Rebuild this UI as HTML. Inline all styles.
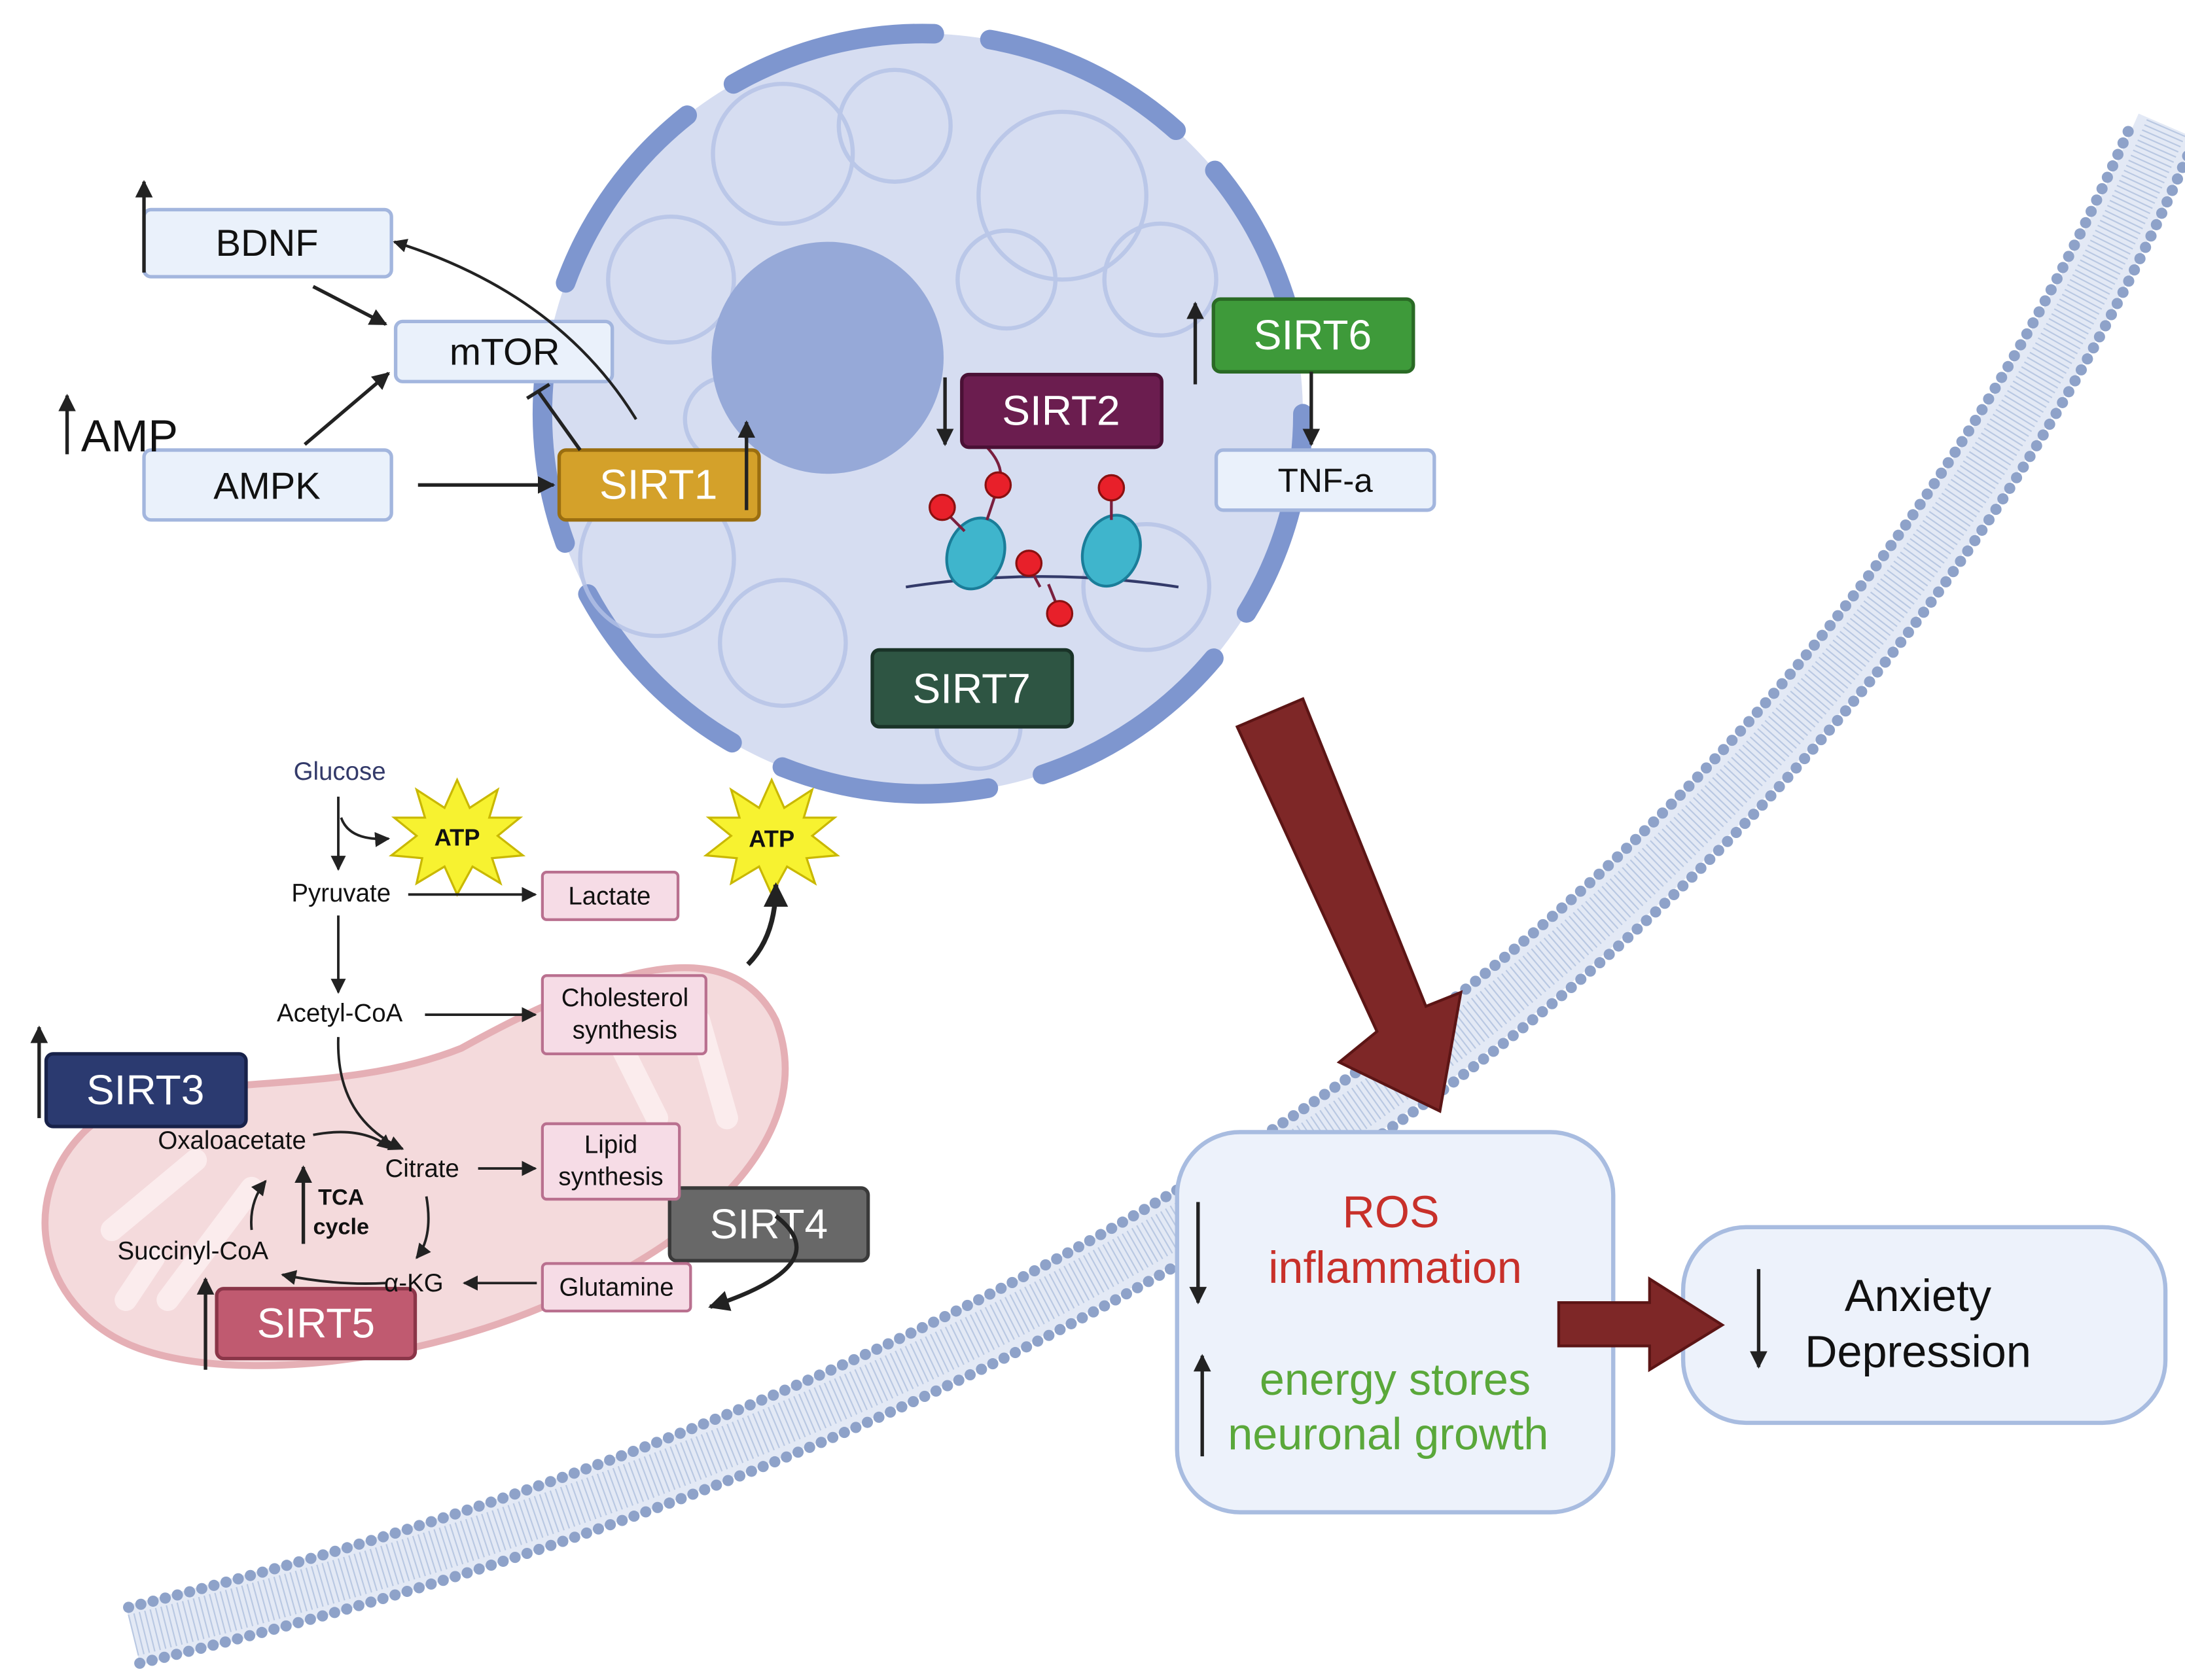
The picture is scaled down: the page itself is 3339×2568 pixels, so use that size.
<!DOCTYPE html>
<html><head><meta charset="utf-8"><style>html,body{margin:0;padding:0;background:#fff}svg{display:block}text{font-family:"Liberation Sans",sans-serif}</style></head>
<body>
<svg width="3339" height="2568" viewBox="0 0 1563 1202" preserveAspectRatio="none" xmlns="http://www.w3.org/2000/svg">
<defs>
<marker id="ah" viewBox="0 0 10 10" refX="9" refY="5" markerWidth="5" markerHeight="5" orient="auto"><path d="M0,0L10,5L0,10z" fill="#222"/></marker>
<marker id="ahs" viewBox="0 0 10 10" refX="9" refY="5" markerWidth="6" markerHeight="6" orient="auto"><path d="M0,0L10,5L0,10z" fill="#222"/></marker>
</defs>
<!-- membrane -->
<path d="M95,1170 Q1200,900 1550,90" fill="none" stroke="#e3e9f5" stroke-width="44"/>
<path d="M95,1170 Q1200,900 1550,90" fill="none" stroke="#b9c8e2" stroke-width="30" stroke-dasharray="1 3"/>
<path d="M92,1150 Q1180,880 1525,88" fill="none" stroke="#8ea2c9" stroke-width="8" stroke-linecap="round" stroke-dasharray="0 9"/>
<path d="M100,1190 Q1222,922 1572,95" fill="none" stroke="#8ea2c9" stroke-width="8" stroke-linecap="round" stroke-dasharray="0 9"/>
<!-- nucleus -->
<circle cx="660" cy="296" r="272" fill="#d6ddf1"/>
<circle cx="660" cy="296" r="272" fill="none" stroke="#7e96cf" stroke-width="14" stroke-dasharray="150 40" stroke-linecap="round"/>
<g fill="none" stroke="#b4c2e6" stroke-width="3" opacity="0.8">
<circle cx="560" cy="110" r="50"/><circle cx="640" cy="90" r="40"/><circle cx="760" cy="140" r="60"/><circle cx="480" cy="200" r="45"/><circle cx="830" cy="200" r="40"/><circle cx="470" cy="400" r="55"/><circle cx="560" cy="460" r="45"/><circle cx="820" cy="420" r="45"/><circle cx="720" cy="200" r="35"/><circle cx="520" cy="300" r="30"/><circle cx="700" cy="520" r="30"/>
</g>
<circle cx="592" cy="256" r="83" fill="#96a9d8"/>
<!-- DNA -->
<path d="M648,420 Q745,405 843,420" fill="none" stroke="#333a6a" stroke-width="2"/>
<ellipse cx="698" cy="396" rx="20" ry="26" fill="#3fb5cc" stroke="#1a7d99" stroke-width="2" transform="rotate(20 698 396)"/>
<ellipse cx="795" cy="394" rx="20" ry="26" fill="#3fb5cc" stroke="#1a7d99" stroke-width="2" transform="rotate(20 795 394)"/>
<g stroke="#7a1f3e" stroke-width="2"><line x1="674" y1="364" x2="690" y2="380"/><line x1="714" y1="348" x2="706" y2="372"/><line x1="795" y1="350" x2="795" y2="372"/><line x1="736" y1="405" x2="744" y2="420"/><line x1="758" y1="438" x2="750" y2="418"/><path d="M706,320 Q720,335 714,348" fill="none"/></g>
<g fill="#e8202a" stroke="#8a1010" stroke-width="1.5"><circle cx="674" cy="363" r="9"/><circle cx="714" cy="347" r="9"/><circle cx="795" cy="349" r="9"/><circle cx="736" cy="403" r="9"/><circle cx="758" cy="439" r="9"/></g>
<!-- mitochondrion -->
<path d="M60,810 C110,760 230,790 330,750 C420,700 520,660 555,730 C590,820 480,900 400,930 C300,975 170,990 100,965 C30,940 10,860 60,810 Z" fill="#f3d6d9" stroke="#e3a7ae" stroke-width="5" opacity="0.9"/>
<g stroke="#fbeced" stroke-width="16" stroke-linecap="round" fill="none"><path d="M80,880 L140,830"/><path d="M120,930 L180,850"/><path d="M440,740 L470,800"/><path d="M500,730 L520,800"/><path d="M90,930 L110,900"/></g>
<!-- result boxes -->
<rect x="842" y="810" width="312" height="272" rx="45" fill="#edf2fb" stroke="#a8bce0" stroke-width="3"/>
<rect x="1204" y="878" width="345" height="140" rx="45" fill="#edf2fb" stroke="#a8bce0" stroke-width="3"/>
<!-- big arrows -->
<polygon points="885,520 932,500 1020,720 1045,710 1030,795 958,760 985,738" fill="#7e2727" stroke="#5c1515" stroke-width="2"/>
<polygon points="1115,932 1180,932 1180,915 1232,948 1180,980 1180,963 1115,963" fill="#7e2727" stroke="#5c1515" stroke-width="2"/>
<text x="995" y="878" font-size="32" fill="#c8302a" text-anchor="middle">ROS</text>
<text x="998" y="918" font-size="32" fill="#c8302a" text-anchor="middle">inflammation</text>
<text x="998" y="998" font-size="32" fill="#5aa83a" text-anchor="middle">energy stores</text>
<text x="993" y="1037" font-size="32" fill="#5aa83a" text-anchor="middle">neuronal growth</text>
<text x="1372" y="938" font-size="32" fill="#111" text-anchor="middle">Anxiety</text>
<text x="1372" y="978" font-size="32" fill="#111" text-anchor="middle">Depression</text>
<g stroke="#222" stroke-width="2.5" fill="none">
<line x1="857" y1="860" x2="857" y2="932" marker-end="url(#ah)"/>
<line x1="860" y1="1042" x2="860" y2="970" marker-end="url(#ah)"/>
<line x1="1258" y1="908" x2="1258" y2="978" marker-end="url(#ah)"/>
</g>
<!-- light boxes -->
<g fill="#eaf1fb" stroke="#a3b6de" stroke-width="2.5">
<rect x="103" y="150" width="177" height="48" rx="5"/><rect x="283" y="230" width="155" height="43" rx="5"/><rect x="103" y="322" width="177" height="50" rx="5"/><rect x="870" y="322" width="156" height="43" rx="5"/>
</g>
<g font-size="27" fill="#111" text-anchor="middle">
<text x="191" y="183">BDNF</text><text x="361" y="261">mTOR</text><text x="191" y="357">AMPK</text><text x="948" y="352" font-size="24">TNF-a</text>
<text x="58" y="323" text-anchor="start" font-size="32">AMP</text></g>
<!-- SIRT boxes -->
<g stroke-width="2.5">
<rect x="400" y="322" width="143" height="50" rx="5" fill="#d4a12a" stroke="#9a6e10"/>
<rect x="688" y="268" width="143" height="52" rx="5" fill="#6b1d4f" stroke="#4a1035"/>
<rect x="868" y="214" width="143" height="52" rx="5" fill="#3e9a3a" stroke="#2a6a25"/>
<rect x="624" y="465" width="143" height="55" rx="5" fill="#2e5543" stroke="#1a3328"/>
<rect x="33" y="754" width="143" height="52" rx="5" fill="#2b3a70" stroke="#18224a"/>
<rect x="479" y="850" width="142" height="52" rx="5" fill="#686868" stroke="#3a3a3a"/>
<rect x="155" y="922" width="142" height="50" rx="5" fill="#c05a70" stroke="#8a3548"/>
</g>
<g font-size="30" fill="#fff" text-anchor="middle">
<text x="471" y="357">SIRT1</text><text x="759" y="304">SIRT2</text><text x="939" y="250">SIRT6</text><text x="695" y="503">SIRT7</text><text x="104" y="790">SIRT3</text><text x="550" y="886">SIRT4</text><text x="226" y="957">SIRT5</text></g>
<!-- top arrows -->
<g stroke="#222" stroke-width="2.5" fill="none">
<line x1="103" y1="195" x2="103" y2="130" marker-end="url(#ah)"/>
<line x1="48" y1="325" x2="48" y2="283" marker-end="url(#ah)"/>
<line x1="224" y1="205" x2="276" y2="232" marker-end="url(#ah)"/>
<line x1="218" y1="318" x2="278" y2="267" marker-end="url(#ah)"/>
<line x1="299" y1="347" x2="396" y2="347" marker-end="url(#ah)"/>
<path d="M455,300 Q400,210 282,173" stroke-width="2" marker-end="url(#ah)"/>
<line x1="415" y1="322" x2="385" y2="280"/><line x1="377" y1="285" x2="393" y2="275"/>
<line x1="534" y1="365" x2="534" y2="302" marker-end="url(#ah)"/>
<line x1="676" y1="270" x2="676" y2="318" marker-end="url(#ah)"/>
<line x1="855" y1="275" x2="855" y2="217" marker-end="url(#ah)"/>
<line x1="938" y1="266" x2="938" y2="318" marker-end="url(#ah)"/>
<line x1="28" y1="800" x2="28" y2="735" marker-end="url(#ah)"/>
<line x1="147" y1="980" x2="147" y2="915" marker-end="url(#ah)"/>
</g>
<!-- ATP -->
<polygon points="327,558 336,578 356,565 350,585 372,585 356,598 374,612 352,614 358,632 338,620 327,640 318,620 298,632 302,614 280,612 298,598 282,585 304,585 298,565 318,578" fill="#f7f230" stroke="#c9b800" stroke-width="1.5"/>
<polygon points="552,558 561,578 581,565 575,585 597,585 581,598 599,612 577,614 583,632 563,620 552,640 543,620 523,632 527,614 505,612 523,598 507,585 529,585 523,565 543,578" fill="#f7f230" stroke="#c9b800" stroke-width="1.5"/>
<g font-size="17" font-weight="bold" text-anchor="middle" fill="#111"><text x="327" y="605">ATP</text><text x="552" y="606">ATP</text></g>
<!-- pink boxes -->
<g fill="#f6dce6" stroke="#b9708f" stroke-width="2">
<rect x="388" y="624" width="97" height="34" rx="3"/><rect x="388" y="698" width="117" height="56" rx="3"/><rect x="388" y="804" width="98" height="54" rx="3"/><rect x="388" y="904" width="106" height="34" rx="3"/></g>
<g font-size="18" fill="#111" text-anchor="middle">
<text x="436" y="647">Lactate</text><text x="447" y="720">Cholesterol</text><text x="447" y="743">synthesis</text><text x="437" y="825">Lipid</text><text x="437" y="848">synthesis</text><text x="441" y="927">Glutamine</text>
<text x="243" y="558" fill="#333a6a">Glucose</text><text x="244" y="645">Pyruvate</text><text x="243" y="731">Acetyl-CoA</text><text x="166" y="822">Oxaloacetate</text><text x="302" y="842">Citrate</text><text x="138" y="901">Succinyl-CoA</text><text x="296" y="924">α-KG</text>
<text x="244" y="862" font-weight="bold" font-size="16">TCA</text><text x="244" y="883" font-weight="bold" font-size="16">cycle</text></g>
<g stroke="#222" stroke-width="1.8" fill="none">
<line x1="242" y1="570" x2="242" y2="622" marker-end="url(#ahs)"/>
<path d="M244,585 Q250,602 278,600" marker-end="url(#ahs)"/>
<line x1="292" y1="640" x2="383" y2="640" marker-end="url(#ahs)"/>
<line x1="242" y1="655" x2="242" y2="710" marker-end="url(#ahs)"/>
<line x1="304" y1="726" x2="383" y2="726" marker-end="url(#ahs)"/>
<path d="M242,742 Q240,800 288,822" marker-end="url(#ahs)"/>
<path d="M224,812 Q260,805 280,822" marker-end="url(#ahs)"/>
<line x1="342" y1="836" x2="383" y2="836" marker-end="url(#ahs)"/>
<path d="M305,856 Q310,885 298,900" marker-end="url(#ahs)"/>
<line x1="384" y1="918" x2="332" y2="918" marker-end="url(#ahs)"/>
<path d="M276,918 Q240,920 202,912" marker-end="url(#ahs)"/>
<path d="M180,880 Q178,860 190,845" marker-end="url(#ahs)"/>
<line x1="217" y1="890" x2="217" y2="835" stroke-width="2.5" marker-end="url(#ah)"/>
<path d="M535,690 Q555,670 555,633" stroke-width="3.5" marker-end="url(#ah)"/>
<path d="M555,870 Q600,905 508,935" stroke-width="3" marker-end="url(#ah)"/>
</g>
</svg>
</body></html>
